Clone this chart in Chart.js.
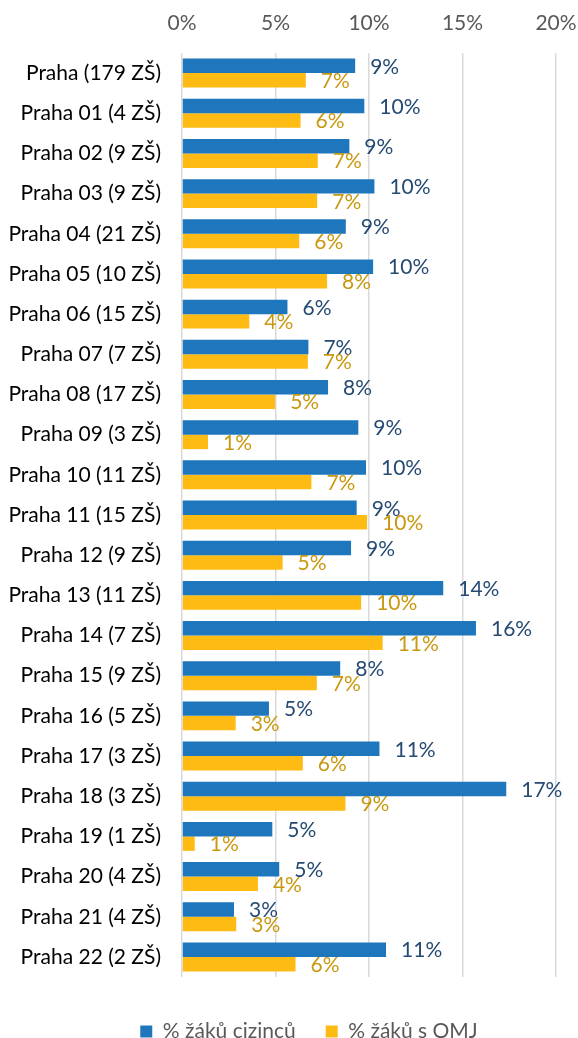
<!DOCTYPE html>
<html>
<head>
<meta charset="utf-8">
<script src="https://cdn.jsdelivr.net/npm/chart.js@4"></script>
<style>
html,body{margin:0;padding:0;background:#ffffff;}
#wrap{width:578px;height:1038px;position:relative;}
</style>
</head>
<body>
<div id="wrap"><canvas id="c" width="578" height="1038"></canvas></div>
<script>
const categories = [
  'Praha (179 ZŠ)','Praha 01 (4 ZŠ)','Praha 02 (9 ZŠ)','Praha 03 (9 ZŠ)','Praha 04 (21 ZŠ)',
  'Praha 05 (10 ZŠ)','Praha 06 (15 ZŠ)','Praha 07 (7 ZŠ)','Praha 08 (17 ZŠ)','Praha 09 (3 ZŠ)',
  'Praha 10 (11 ZŠ)','Praha 11 (15 ZŠ)','Praha 12 (9 ZŠ)','Praha 13 (11 ZŠ)','Praha 14 (7 ZŠ)',
  'Praha 15 (9 ZŠ)','Praha 16 (5 ZŠ)','Praha 17 (3 ZŠ)','Praha 18 (3 ZŠ)','Praha 19 (1 ZŠ)',
  'Praha 20 (4 ZŠ)','Praha 21 (4 ZŠ)','Praha 22 (2 ZŠ)'
];
const seriesNames = ['% žáků cizinců', '% žáků s OMJ'];
const foreignPct = [9.26, 9.75, 8.95, 10.29, 8.76, 10.22, 5.64, 6.76, 7.81, 9.43, 9.84, 9.34, 9.04, 13.97, 15.72, 8.46, 4.65, 10.56, 17.34, 4.83, 5.20, 2.78, 10.91];
const omjPct     = [6.62, 6.34, 7.26, 7.23, 6.27, 7.76, 3.60, 6.73, 4.98, 1.39, 6.92, 9.90, 5.38, 9.58, 10.73, 7.21, 2.87, 6.46, 8.74, 0.68, 4.06, 2.90, 6.07];
const axisMin = 0, axisMax = 20, axisStep = 5;

const barColors = ['#1e76bd', '#fdbb13'];
const labelColors = ['#264a72', '#c9980f'];
const FONT = 'Lato';
const FSIZE = 21;

const valueLabels = {
  id: 'valueLabels',
  afterDatasetsDraw(chart) {
    const ctx = chart.ctx;
    ctx.save();
    ctx.font = FSIZE + 'px ' + FONT;
    ctx.textBaseline = 'middle';
    ctx.textAlign = 'left';
    chart.data.datasets.forEach((ds, i) => {
      const meta = chart.getDatasetMeta(i);
      ctx.fillStyle = labelColors[i];
      meta.data.forEach((bar, j) => {
        ctx.fillText(Math.round(ds.data[j]) + '%', bar.x + 15, bar.y + 1);
      });
    });
    ctx.restore();
  }
};

const legendShift = {
  id: 'legendShift',
  afterLayout(chart) {
    const lg = chart.legend;
    if (!lg) return;
    lg.top += 14; lg.bottom += 14;
    lg.left += 31; lg.right += 31;
  }
};

new Chart(document.getElementById('c'), {
  type: 'bar',
  data: {
    labels: categories,
    datasets: [
      { label: seriesNames[0], data: foreignPct, backgroundColor: barColors[0], borderWidth: 0 },
      { label: seriesNames[1], data: omjPct, backgroundColor: barColors[1], borderWidth: 0 }
    ]
  },
  options: {
    indexAxis: 'y',
    responsive: false,
    animation: false,
    devicePixelRatio: 1,
    layout: { padding: { left: 0, right: 22, top: 0, bottom: 0 } },
    datasets: { bar: { categoryPercentage: 0.72, barPercentage: 1.0 } },
    scales: {
      x: {
        position: 'top',
        min: axisMin, max: axisMax,
        ticks: {
          stepSize: axisStep,
          padding: 17,
          color: '#595959',
          font: { family: FONT, size: FSIZE },
          callback: v => v + '%'
        },
        grid: { color: '#d9d9d9', lineWidth: 1.5, drawTicks: false },
        border: { display: false },
        afterFit(scale) { scale.height = 53; scale.paddingRight = 0; scale.paddingLeft = 0; }
      },
      y: {
        ticks: {
          padding: 21,
          color: '#000000',
          font: { family: FONT, size: FSIZE },
          autoSkip: false
        },
        grid: { display: false, drawTicks: false },
        border: { display: false },
        afterFit(scale) { scale.width = 182; }
      }
    },
    plugins: {
      legend: {
        position: 'bottom',
        labels: {
          boxWidth: 12, boxHeight: 12, padding: 30,
          color: '#595959',
          font: { family: FONT, size: FSIZE }
        }
      },
      tooltip: { enabled: false }
    }
  },
  plugins: [valueLabels, legendShift]
});
</script>
</body>
</html>
